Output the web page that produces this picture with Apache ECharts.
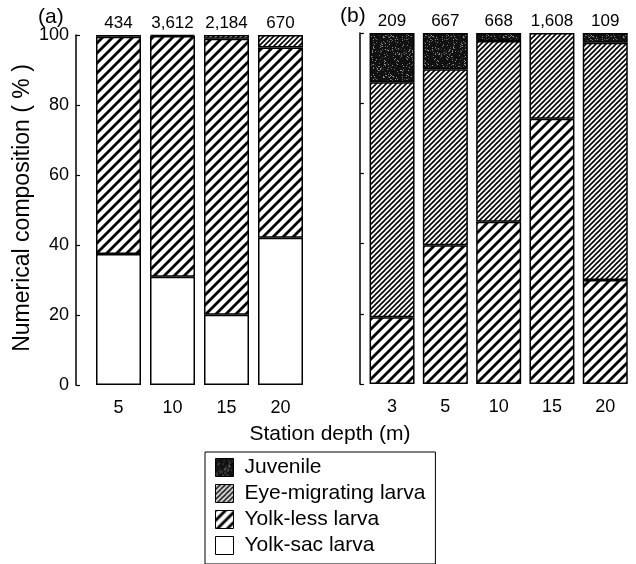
<!DOCTYPE html>
<html>
<head>
<meta charset="utf-8">
<script src="https://cdn.jsdelivr.net/npm/echarts@6/dist/echarts.min.js"></script>
<style>
html,body{margin:0;padding:0;background:#fff;}
#chart{width:636px;height:564px;}
</style>
</head>
<body>
<div id="chart"></div>
<script>
// ---- data ----
const depthsA = ['5', '10', '15', '20'];
const totalsA = [434, 3612, 2184, 670];
const yolkSacA = [37.4, 30.9, 20.1, 42.1];
const yolkLessA = [62.1, 68.8, 78.8, 54.3];
const eyeA = [0.5, 0.3, 1.1, 3.6];
const juvA = [0, 0, 0, 0];

const depthsB = ['3', '5', '10', '15', '20'];
const totalsB = [209, 667, 668, 1608, 109];
const yolkSacB = [0, 0, 0, 0, 0];
const yolkLessB = [19.0, 39.5, 46.2, 75.6, 29.6];
const eyeB = [67.0, 50.2, 51.5, 24.4, 67.6];
const juvB = [14.0, 10.3, 2.3, 0, 2.8];

const yTicks = [0, 20, 40, 60, 80, 100];
const stageNames = ['Juvenile', 'Eye-migrating larva', 'Yolk-less larva', 'Yolk-sac larva'];

// ---- patterns ----
function hatch(n, lw) {
  const c = document.createElement('canvas');
  c.width = n; c.height = n;
  const g = c.getContext('2d');
  g.fillStyle = '#fff'; g.fillRect(0, 0, n, n);
  g.strokeStyle = '#000'; g.lineWidth = lw;
  for (let k = -1; k <= 1; k++) {
    g.beginPath();
    g.moveTo(k * n - 1, n + 1);
    g.lineTo(k * n + n + 1, -1);
    g.stroke();
  }
  return c;
}
function speckle() {
  const n = 40;
  const c = document.createElement('canvas');
  c.width = n; c.height = n;
  const g = c.getContext('2d');
  g.fillStyle = '#111'; g.fillRect(0, 0, n, n);
  let s = 12345;
  function rnd() { s = (s * 16807) % 2147483647; return s / 2147483647; }
  for (let i = 0; i < 220; i++) {
    const v = Math.floor(60 + rnd() * 100);
    g.fillStyle = 'rgb(' + v + ',' + v + ',' + v + ')';
    g.fillRect(Math.floor(rnd() * n), Math.floor(rnd() * n), 1, 1);
  }
  return c;
}
const fills = {
  'Juvenile': { image: speckle(), repeat: 'repeat' },
  'Eye-migrating larva': { image: hatch(5, 1.6), repeat: 'repeat' },
  'Yolk-less larva': { image: hatch(10, 2.8), repeat: 'repeat' },
  'Yolk-sac larva': '#ffffff'
};

function nz(arr) { return arr.map(v => (v > 0 ? v : '-')); }

const font = 'Liberation Sans, Arial, sans-serif';

function stageSeries(name, data, axisIdx, stack) {
  return {
    name: name, type: 'bar', stack: stack,
    xAxisIndex: axisIdx, yAxisIndex: axisIdx,
    data: nz(data), barWidth: 45, barGap: '-100%',
    itemStyle: { color: fills[name], borderColor: '#000', borderWidth: 1.5 },
    emphasis: { disabled: true },
    animation: false
  };
}
function totalSeries(totals, axisIdx) {
  return {
    type: 'bar', xAxisIndex: axisIdx, yAxisIndex: axisIdx,
    data: totals.map(() => 100), barWidth: 45, barGap: '-100%',
    itemStyle: { color: 'rgba(255,255,255,0)', borderWidth: 0 },
    label: {
      show: true, position: 'top', distance: 3, color: '#000',
      fontFamily: font, fontSize: 17,
      formatter: p => totals[p.dataIndex].toLocaleString('en-US')
    },
    z: 1, animation: false, silent: true
  };
}

const series = [];
[['Yolk-sac larva', yolkSacA], ['Yolk-less larva', yolkLessA], ['Eye-migrating larva', eyeA], ['Juvenile', juvA]]
  .forEach(([n, d]) => series.push(stageSeries(n, d, 0, 'a')));
[['Yolk-sac larva', yolkSacB], ['Yolk-less larva', yolkLessB], ['Eye-migrating larva', eyeB], ['Juvenile', juvB]]
  .forEach(([n, d]) => series.push(stageSeries(n, d, 1, 'b')));
series.push(totalSeries(totalsA, 0));
series.push(totalSeries(totalsB, 1));

function xAx(cats, gi) {
  return {
    type: 'category', gridIndex: gi, data: cats,
    axisLine: { show: false }, axisTick: { show: false },
    axisLabel: { color: '#000', fontFamily: font, fontSize: 18, margin: 14 }
  };
}
function yAx(gi, showLabels, offset) {
  return {
    type: 'value', gridIndex: gi, min: 0, max: 100, interval: 20, offset: offset,
    splitLine: { show: false },
    axisLine: { show: true, lineStyle: { color: '#000', width: 1.5 } },
    axisTick: { show: true, inside: true, length: 4, lineStyle: { color: '#000', width: 1.2 } },
    axisLabel: {
      show: showLabels, color: '#000', fontFamily: font, fontSize: 18, margin: 7,
      formatter: v => (yTicks.indexOf(v) >= 0 ? String(v) : '')
    }
  };
}

const chart = echarts.init(document.getElementById('chart'), null, { renderer: 'canvas' });
chart.setOption({
  animation: false,
  backgroundColor: '#fff',
  grid: [
    { left: 91.5, top: 35, width: 216, height: 350 },
    { left: 365.4, top: 33, width: 266.5, height: 351 }
  ],
  xAxis: [xAx(depthsA, 0), xAx(depthsB, 1)],
  yAxis: [yAx(0, true, 15.5), yAx(1, false, 5.5)],
  legend: {
    data: stageNames, orient: 'vertical', left: 205, top: 452, height: 140,
    borderColor: '#000', borderWidth: 1, padding: [5, 10, 8, 10],
    itemWidth: 18, itemHeight: 18, itemGap: 5, icon: 'rect',
    itemStyle: { borderColor: '#000', borderWidth: 1 },
    textStyle: { color: '#000', fontFamily: font, fontSize: 21, lineHeight: 18, padding: [0, 0, 0, 6] },
    selectedMode: false
  },
  graphic: [
    { type: 'text', left: 38, top: 7, style: { text: '(a)', fontFamily: font, fontSize: 21, fill: '#000' } },
    { type: 'text', left: 340, top: 6, style: { text: '(b)', fontFamily: font, fontSize: 21, fill: '#000' } },
    { type: 'text', x: 23, y: 208, rotation: Math.PI / 2,
      style: { text: 'Numerical composition ( % )', fontFamily: font, fontSize: 23, fill: '#000', align: 'center', verticalAlign: 'middle' } },
    { type: 'text', x: 330, y: 434,
      style: { text: 'Station depth (m)', fontFamily: font, fontSize: 21, fill: '#000', align: 'center', verticalAlign: 'middle' } }
  ],
  series: series
});
</script>
</body>
</html>
